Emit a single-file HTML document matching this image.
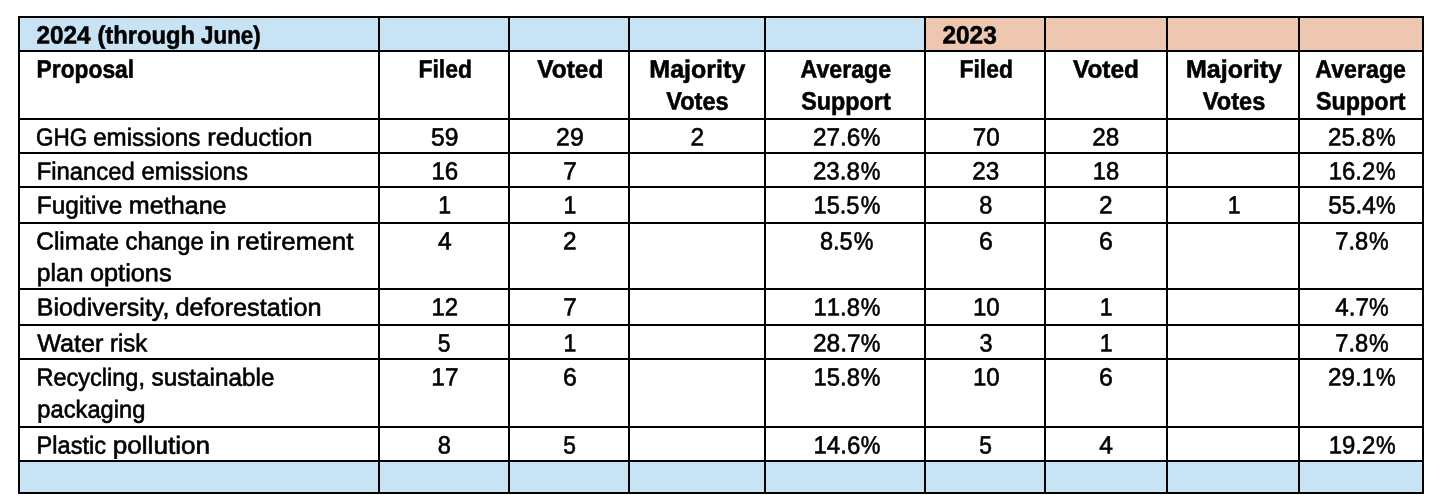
<!DOCTYPE html>
<html lang="en"><head><meta charset="utf-8"><title>Shareholder proposals: 2024 (through June) vs 2023</title>
<style>
html,body{margin:0;padding:0;background:#fff;}
body{width:1444px;height:502px;position:relative;overflow:hidden;font-family:"Liberation Sans",Arial,sans-serif;color:#000;}
table{position:absolute;left:18px;top:16px;width:1406px;table-layout:fixed;border-collapse:collapse;border-spacing:0;}
td,th{position:relative;padding:0;border:2px solid #000;vertical-align:top;text-align:left;font-weight:normal;overflow:visible;}
.blue td,.blue th,td.blue,th.blue{background:#c8e3f4;}
td.salmon,th.salmon{background:#eec7b0;}
.t{position:absolute;white-space:nowrap;line-height:30px;height:30px;transform-origin:0 0;text-rendering:geometricPrecision;}
.r{font-size:24.7px;-webkit-text-stroke:0.6px #000;}
.n{font-size:25.0px;-webkit-text-stroke:0.6px #000;font-kerning:none;}
.b{font-size:25.0px;font-weight:bold;-webkit-text-stroke:0.55px #000;}
</style></head><body>
<table>
<colgroup><col style="width:360px"><col style="width:130px"><col style="width:120px"><col style="width:136px"><col style="width:160px"><col style="width:120px"><col style="width:122px"><col style="width:132px"><col style="width:124px"></colgroup>
<thead>
<tr style="height:34px">
<th class="blue" scope="col"><span class="t b" style="left:16px;top:3px;transform:translate(0.39px,-0.40px) skewY(0.05deg) scaleX(0.9736)">2024</span> <span class="t b" style="left:77px;top:3px;transform:translate(0.39px,-0.40px) skewY(0.05deg) scaleX(0.9515)">(through</span> <span class="t b" style="left:181px;top:3px;transform:translate(0.09px,-0.40px) skewY(0.05deg) scaleX(0.8947)">June)</span></th>
<th class="blue" scope="col"></th>
<th class="blue" scope="col"></th>
<th class="blue" scope="col"></th>
<th class="blue" scope="col"></th>
<th class="salmon" scope="col"><span class="t b" style="left:16px;top:3px;transform:translate(0.39px,-0.40px) skewY(0.05deg) scaleX(0.9768)">2023</span></th>
<th class="salmon" scope="col"></th>
<th class="salmon" scope="col"></th>
<th class="salmon" scope="col"></th>
</tr>
<tr style="height:68px">
<th scope="col"><span class="t b" style="left:16px;top:3px;transform:translate(0.59px,-0.40px) skewY(0.05deg) scaleX(0.9119)">Proposal</span></th>
<th scope="col"><span class="t b" style="left:38px;top:3px;transform:translate(0.48px,-0.40px) skewY(0.05deg) scaleX(0.9164)">Filed</span></th>
<th scope="col"><span class="t b" style="left:27px;top:3px;transform:translate(0.30px,-0.40px) skewY(0.05deg) scaleX(0.9768)">Voted</span></th>
<th scope="col"><span class="t b" style="left:19px;top:3px;transform:translate(0.30px,-0.40px) skewY(0.05deg) scaleX(1.0021)">Majority</span> <span class="t b" style="left:36px;top:35px;transform:translate(0.15px,-0.40px) skewY(0.05deg) scaleX(0.9438)">Votes</span></th>
<th scope="col"><span class="t b" style="left:34px;top:3px;transform:translate(0.57px,-0.40px) skewY(0.05deg) scaleX(0.9262)">Average</span> <span class="t b" style="left:35px;top:35px;transform:translate(0.17px,-0.40px) skewY(0.05deg) scaleX(0.9346)">Support</span></th>
<th scope="col"><span class="t b" style="left:33px;top:3px;transform:translate(0.43px,-0.40px) skewY(0.05deg) scaleX(0.9164)">Filed</span></th>
<th scope="col"><span class="t b" style="left:26px;top:3px;transform:translate(0.90px,-0.40px) skewY(0.05deg) scaleX(0.9768)">Voted</span></th>
<th scope="col"><span class="t b" style="left:17px;top:3px;transform:translate(0.90px,-0.40px) skewY(0.05deg) scaleX(1.0021)">Majority</span> <span class="t b" style="left:34px;top:35px;transform:translate(0.75px,-0.40px) skewY(0.05deg) scaleX(0.9438)">Votes</span></th>
<th scope="col"><span class="t b" style="left:15px;top:3px;transform:translate(0.37px,-0.40px) skewY(0.05deg) scaleX(0.9262)">Average</span> <span class="t b" style="left:15px;top:35px;transform:translate(0.97px,-0.40px) skewY(0.05deg) scaleX(0.9346)">Support</span></th>
</tr>
</thead>
<tbody>
<tr style="height:34px">
<th scope="row"><span class="t r" style="left:15px;top:4px;transform:translate(0.93px,-0.40px) skewY(0.05deg) scaleX(0.9123)">GHG</span> <span class="t r" style="left:73px;top:4px;transform:translate(0.16px,-0.40px) skewY(0.05deg) scaleX(0.9763)">emissions</span> <span class="t r" style="left:187px;top:4px;transform:translate(0.14px,-0.40px) skewY(0.05deg) scaleX(1.0367)">reduction</span></th>
<td><span class="t n" style="left:50px;top:3px;transform:translate(0.97px,-0.40px) skewY(0.05deg) scaleX(0.9854)">59</span></td>
<td><span class="t n" style="left:46px;top:3px;transform:translate(0.07px,-0.40px) skewY(0.05deg) scaleX(0.9929)">29</span></td>
<td><span class="t n" style="left:60px;top:3px;transform:translate(0.42px,-0.40px) skewY(0.05deg) scaleX(0.9762)">2</span></td>
<td><span class="t n" style="left:46px;top:3px;transform:translate(0.88px,-0.40px) skewY(0.05deg) scaleX(0.9759)">27.6</span><span class="t n" style="left:94px;top:3px;transform:translate(0.69px,-0.40px) skewY(0.05deg) scaleX(0.8830)">%</span></td>
<td><span class="t n" style="left:46px;top:3px;transform:translate(0.71px,-0.40px) skewY(0.05deg) scaleX(0.9693)">70</span></td>
<td><span class="t n" style="left:46px;top:3px;transform:translate(0.18px,-0.40px) skewY(0.05deg) scaleX(0.9730)">28</span></td>
<td></td>
<td><span class="t n" style="left:28px;top:3px;transform:translate(0.09px,-0.40px) skewY(0.05deg) scaleX(0.9669)">25.8</span><span class="t n" style="left:75px;top:3px;transform:translate(0.89px,-0.40px) skewY(0.05deg) scaleX(0.8830)">%</span></td>
</tr>
<tr style="height:34px">
<th scope="row"><span class="t r" style="left:16px;top:4px;transform:translate(0.66px,-0.40px) skewY(0.05deg) scaleX(0.9660)">Financed</span> <span class="t r" style="left:121px;top:4px;transform:translate(0.38px,-0.40px) skewY(0.05deg) scaleX(0.9704)">emissions</span></th>
<td><span class="t n" style="left:51px;top:3px;transform:translate(0.38px,-0.40px) skewY(0.05deg) scaleX(0.9667)">16</span></td>
<td><span class="t n" style="left:53px;top:3px;transform:translate(0.34px,-0.40px) skewY(0.05deg) scaleX(0.9762)">7</span></td>
<td></td>
<td><span class="t n" style="left:46px;top:3px;transform:translate(0.89px,-0.40px) skewY(0.05deg) scaleX(0.9669)">23.8</span><span class="t n" style="left:94px;top:3px;transform:translate(0.69px,-0.40px) skewY(0.05deg) scaleX(0.8830)">%</span></td>
<td><span class="t n" style="left:46px;top:3px;transform:translate(0.28px,-0.40px) skewY(0.05deg) scaleX(0.9730)">23</span></td>
<td><span class="t n" style="left:46px;top:3px;transform:translate(0.80px,-0.40px) skewY(0.05deg) scaleX(0.9501)">18</span></td>
<td></td>
<td><span class="t n" style="left:28px;top:3px;transform:translate(0.69px,-0.40px) skewY(0.05deg) scaleX(0.9584)">16.2</span><span class="t n" style="left:75px;top:3px;transform:translate(0.89px,-0.40px) skewY(0.05deg) scaleX(0.8830)">%</span></td>
</tr>
<tr style="height:36px">
<th scope="row"><span class="t r" style="left:16px;top:4px;transform:translate(0.82px,-0.40px) skewY(0.05deg) scaleX(0.9886)">Fugitive</span> <span class="t r" style="left:108px;top:4px;transform:translate(0.80px,-0.40px) skewY(0.05deg) scaleX(1.0179)">methane</span></th>
<td><span class="t n" style="left:58px;top:3px;transform:translate(0.29px,-0.40px) skewY(0.05deg) scaleX(0.9252)">1</span></td>
<td><span class="t n" style="left:53px;top:3px;transform:translate(0.59px,-0.40px) skewY(0.05deg) scaleX(0.9252)">1</span></td>
<td></td>
<td><span class="t n" style="left:47px;top:3px;transform:translate(0.51px,-0.40px) skewY(0.05deg) scaleX(0.9451)">15.5</span><span class="t n" style="left:94px;top:3px;transform:translate(0.69px,-0.40px) skewY(0.05deg) scaleX(0.8830)">%</span></td>
<td><span class="t n" style="left:53px;top:3px;transform:translate(0.34px,-0.40px) skewY(0.05deg) scaleX(0.9450)">8</span></td>
<td><span class="t n" style="left:53px;top:3px;transform:translate(0.02px,-0.40px) skewY(0.05deg) scaleX(0.9762)">2</span></td>
<td><span class="t n" style="left:59px;top:3px;transform:translate(0.69px,-0.40px) skewY(0.05deg) scaleX(0.9252)">1</span></td>
<td><span class="t n" style="left:28px;top:3px;transform:translate(0.28px,-0.40px) skewY(0.05deg) scaleX(0.9745)">55.4</span><span class="t n" style="left:75px;top:3px;transform:translate(0.89px,-0.40px) skewY(0.05deg) scaleX(0.8830)">%</span></td>
</tr>
<tr style="height:66px">
<th scope="row"><span class="t r" style="left:16px;top:4px;transform:translate(0.21px,-0.40px) skewY(0.05deg) scaleX(0.9913)">Climate</span> <span class="t r" style="left:105px;top:4px;transform:translate(0.50px,-0.40px) skewY(0.05deg) scaleX(0.9649)">change</span> <span class="t r" style="left:189px;top:4px;transform:translate(0.74px,-0.40px) skewY(0.05deg) scaleX(1.0509)">in</span> <span class="t r" style="left:216px;top:4px;transform:translate(0.57px,-0.40px) skewY(0.05deg) scaleX(1.0512)">retirement</span> <span class="t r" style="left:16px;top:36px;transform:translate(0.80px,-0.90px) skewY(0.05deg) scaleX(0.9983)">plan</span> <span class="t r" style="left:69px;top:36px;transform:translate(0.93px,-0.90px) skewY(0.05deg) scaleX(1.0262)">options</span></th>
<td><span class="t n" style="left:57px;top:3px;transform:translate(0.88px,-0.40px) skewY(0.05deg) scaleX(0.9833)">4</span></td>
<td><span class="t n" style="left:52px;top:3px;transform:translate(0.92px,-0.40px) skewY(0.05deg) scaleX(0.9762)">2</span></td>
<td></td>
<td><span class="t n" style="left:53px;top:3px;transform:translate(0.94px,-0.40px) skewY(0.05deg) scaleX(0.9413)">8.5</span><span class="t n" style="left:87px;top:3px;transform:translate(0.84px,-0.40px) skewY(0.05deg) scaleX(0.8830)">%</span></td>
<td><span class="t n" style="left:53px;top:3px;transform:translate(0.11px,-0.40px) skewY(0.05deg) scaleX(0.9947)">6</span></td>
<td><span class="t n" style="left:53px;top:3px;transform:translate(0.01px,-0.40px) skewY(0.05deg) scaleX(0.9947)">6</span></td>
<td></td>
<td><span class="t n" style="left:35px;top:3px;transform:translate(0.37px,-0.40px) skewY(0.05deg) scaleX(0.9470)">7.8</span><span class="t n" style="left:69px;top:3px;transform:translate(0.04px,-0.40px) skewY(0.05deg) scaleX(0.8830)">%</span></td>
</tr>
<tr style="height:36px">
<th scope="row"><span class="t r" style="left:16px;top:4px;transform:translate(0.78px,-0.40px) skewY(0.05deg) scaleX(1.0101)">Biodiversity,</span> <span class="t r" style="left:155px;top:4px;transform:translate(0.43px,-0.40px) skewY(0.05deg) scaleX(1.0240)">deforestation</span></th>
<td><span class="t n" style="left:51px;top:3px;transform:translate(0.39px,-0.40px) skewY(0.05deg) scaleX(0.9576)">12</span></td>
<td><span class="t n" style="left:53px;top:3px;transform:translate(0.34px,-0.40px) skewY(0.05deg) scaleX(0.9762)">7</span></td>
<td></td>
<td><span class="t n" style="left:47px;top:3px;transform:translate(0.50px,-0.40px) skewY(0.05deg) scaleX(0.9542)">11.8</span><span class="t n" style="left:94px;top:3px;transform:translate(0.69px,-0.40px) skewY(0.05deg) scaleX(0.8830)">%</span></td>
<td><span class="t n" style="left:46px;top:3px;transform:translate(0.88px,-0.40px) skewY(0.05deg) scaleX(0.9629)">10</span></td>
<td><span class="t n" style="left:53px;top:3px;transform:translate(0.69px,-0.40px) skewY(0.05deg) scaleX(0.9252)">1</span></td>
<td></td>
<td><span class="t n" style="left:35px;top:3px;transform:translate(0.18px,-0.40px) skewY(0.05deg) scaleX(0.9705)">4.7</span><span class="t n" style="left:69px;top:3px;transform:translate(0.04px,-0.40px) skewY(0.05deg) scaleX(0.8830)">%</span></td>
</tr>
<tr style="height:34px">
<th scope="row"><span class="t r" style="left:17px;top:4px;transform:translate(0.20px,-0.40px) skewY(0.05deg) scaleX(1.0205)">Water</span> <span class="t r" style="left:90px;top:4px;transform:translate(0.04px,-0.40px) skewY(0.05deg) scaleX(0.9689)">risk</span></th>
<td><span class="t n" style="left:57px;top:3px;transform:translate(0.86px,-0.40px) skewY(0.05deg) scaleX(0.9112)">5</span></td>
<td><span class="t n" style="left:53px;top:3px;transform:translate(0.59px,-0.40px) skewY(0.05deg) scaleX(0.9252)">1</span></td>
<td></td>
<td><span class="t n" style="left:46px;top:3px;transform:translate(0.88px,-0.40px) skewY(0.05deg) scaleX(0.9801)">28.7</span><span class="t n" style="left:94px;top:3px;transform:translate(0.69px,-0.40px) skewY(0.05deg) scaleX(0.8830)">%</span></td>
<td><span class="t n" style="left:53px;top:3px;transform:translate(0.44px,-0.40px) skewY(0.05deg) scaleX(0.9375)">3</span></td>
<td><span class="t n" style="left:53px;top:3px;transform:translate(0.69px,-0.40px) skewY(0.05deg) scaleX(0.9252)">1</span></td>
<td></td>
<td><span class="t n" style="left:35px;top:3px;transform:translate(0.37px,-0.40px) skewY(0.05deg) scaleX(0.9470)">7.8</span><span class="t n" style="left:69px;top:3px;transform:translate(0.04px,-0.40px) skewY(0.05deg) scaleX(0.8830)">%</span></td>
</tr>
<tr style="height:68px">
<th scope="row"><span class="t r" style="left:16px;top:4px;transform:translate(0.48px,-0.40px) skewY(0.05deg) scaleX(0.9525)">Recycling,</span> <span class="t r" style="left:131px;top:4px;transform:translate(0.54px,-0.40px) skewY(0.05deg) scaleX(0.9842)">sustainable</span> <span class="t r" style="left:17px;top:36px;transform:translate(0.35px,-0.40px) skewY(0.05deg) scaleX(0.9594)">packaging</span></th>
<td><span class="t n" style="left:51px;top:3px;transform:translate(0.37px,-0.40px) skewY(0.05deg) scaleX(0.9743)">17</span></td>
<td><span class="t n" style="left:52px;top:3px;transform:translate(0.91px,-0.40px) skewY(0.05deg) scaleX(0.9947)">6</span></td>
<td></td>
<td><span class="t n" style="left:47px;top:3px;transform:translate(0.50px,-0.40px) skewY(0.05deg) scaleX(0.9542)">15.8</span><span class="t n" style="left:94px;top:3px;transform:translate(0.69px,-0.40px) skewY(0.05deg) scaleX(0.8830)">%</span></td>
<td><span class="t n" style="left:46px;top:3px;transform:translate(0.88px,-0.40px) skewY(0.05deg) scaleX(0.9629)">10</span></td>
<td><span class="t n" style="left:53px;top:3px;transform:translate(0.01px,-0.40px) skewY(0.05deg) scaleX(0.9947)">6</span></td>
<td></td>
<td><span class="t n" style="left:28px;top:3px;transform:translate(0.08px,-0.40px) skewY(0.05deg) scaleX(0.9711)">29.1</span><span class="t n" style="left:75px;top:3px;transform:translate(0.89px,-0.40px) skewY(0.05deg) scaleX(0.8830)">%</span></td>
</tr>
<tr style="height:34px">
<th scope="row"><span class="t r" style="left:16px;top:4px;transform:translate(0.58px,-0.40px) skewY(0.05deg) scaleX(0.9545)">Plastic</span> <span class="t r" style="left:92px;top:4px;transform:translate(0.63px,-0.40px) skewY(0.05deg) scaleX(1.0606)">pollution</span></th>
<td><span class="t n" style="left:57px;top:3px;transform:translate(0.84px,-0.40px) skewY(0.05deg) scaleX(0.9450)">8</span></td>
<td><span class="t n" style="left:53px;top:3px;transform:translate(0.16px,-0.40px) skewY(0.05deg) scaleX(0.9112)">5</span></td>
<td></td>
<td><span class="t n" style="left:47px;top:3px;transform:translate(0.48px,-0.40px) skewY(0.05deg) scaleX(0.9633)">14.6</span><span class="t n" style="left:94px;top:3px;transform:translate(0.69px,-0.40px) skewY(0.05deg) scaleX(0.8830)">%</span></td>
<td><span class="t n" style="left:53px;top:3px;transform:translate(0.36px,-0.40px) skewY(0.05deg) scaleX(0.9112)">5</span></td>
<td><span class="t n" style="left:53px;top:3px;transform:translate(0.28px,-0.40px) skewY(0.05deg) scaleX(0.9833)">4</span></td>
<td></td>
<td><span class="t n" style="left:28px;top:3px;transform:translate(0.69px,-0.40px) skewY(0.05deg) scaleX(0.9584)">19.2</span><span class="t n" style="left:75px;top:3px;transform:translate(0.89px,-0.40px) skewY(0.05deg) scaleX(0.8830)">%</span></td>
</tr>
</tbody>
<tfoot>
<tr class="blue" style="height:32px">
<td></td>
<td></td>
<td></td>
<td></td>
<td></td>
<td></td>
<td></td>
<td></td>
<td></td>
</tr>
</tfoot>
</table>
</body></html>
